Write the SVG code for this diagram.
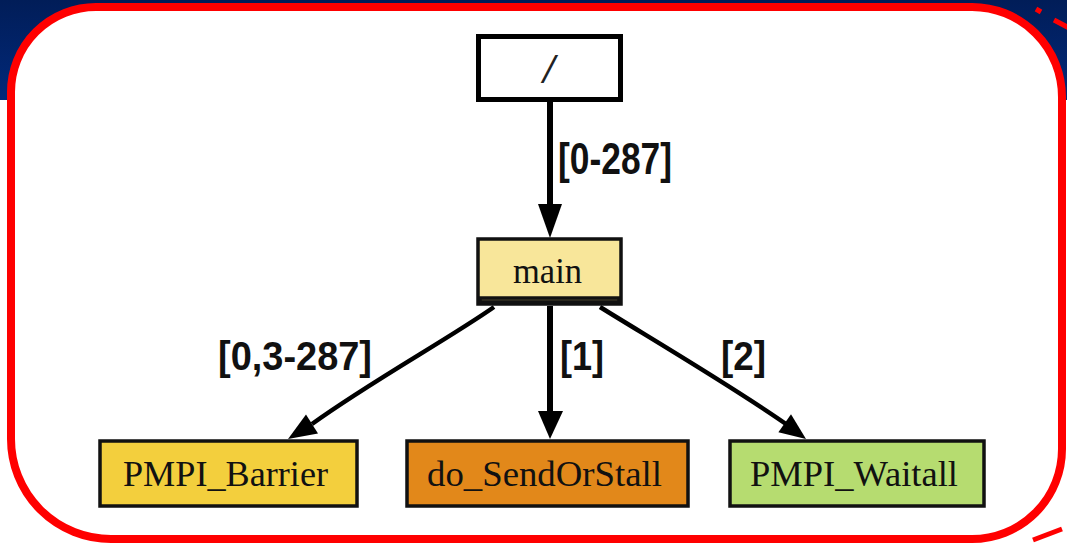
<svg xmlns="http://www.w3.org/2000/svg" width="1067" height="548" viewBox="0 0 1067 548">
  <defs>
    <linearGradient id="navy" x1="0" y1="0" x2="0" y2="1">
      <stop offset="0" stop-color="#011d58"/>
      <stop offset="1" stop-color="#02297a"/>
    </linearGradient>
    <style>
      .node rect { stroke: #111; stroke-width: 3.5; }
      .label { font-family: "Liberation Serif", "Times New Roman", serif; font-size: 36px; fill: #111; text-anchor: start; }
      .elabel { font-family: "Liberation Sans", Arial, sans-serif; font-weight: bold; fill: #111; }
      .edge { fill: none; stroke: #000; }
      .head { fill: #000; }
      .frame { fill: #fff; stroke: #ff0000; stroke-width: 8; }
      .mark { stroke: #ff0000; stroke-width: 5; }
    </style>
  </defs>

  <!-- page background -->
  <rect x="0" y="0" width="1067" height="548" fill="#fff"/>
  <rect x="0" y="0" width="1067" height="100" fill="url(#navy)"/>

  <!-- red rounded frame -->
  <path class="frame" d="M 96,7 H 972 A 90 90 0 0 1 1062,97 V 449 A 90 90 0 0 1 972,539 H 111 A 100 100 0 0 1 11,439 V 92 A 85 85 0 0 1 96,7 Z"/>
  <g id="frame-marks">
    <line class="mark" x1="1036" y1="9" x2="1041" y2="12"/>
    <line class="mark" x1="1054" y1="20" x2="1069" y2="28"/>
    <line class="mark" x1="1033" y1="540" x2="1062" y2="529"/>
  </g>

  <!-- connectors -->
  <g id="edges">
    <line class="edge" x1="550" y1="102" x2="550" y2="207" stroke-width="6"/>
    <polygon class="head" points="538,204 562,204 550,238"/>
    <text class="elabel" x="558" y="174" font-size="44" textLength="114" lengthAdjust="spacingAndGlyphs">[0-287]</text>

    <path class="edge" d="M 494,307 C 450,338 370,382 312,424" stroke-width="4.5"/>
    <polygon class="head" points="288,439 318,433.4 306,414.6"/>
    <text class="elabel" x="218" y="370" font-size="40" textLength="154" lengthAdjust="spacingAndGlyphs">[0,3-287]</text>

    <line class="edge" x1="550" y1="306" x2="550" y2="414" stroke-width="6"/>
    <polygon class="head" points="538,411 563,411 550,439"/>
    <text class="elabel" x="560" y="370" font-size="40" textLength="44" lengthAdjust="spacingAndGlyphs">[1]</text>

    <path class="edge" d="M 600,307 C 650,338 730,385 786,424" stroke-width="4.5"/>
    <polygon class="head" points="806,439 778.4,432.2 791,414.2"/>
    <text class="elabel" x="721" y="370" font-size="40" textLength="45" lengthAdjust="spacingAndGlyphs">[2]</text>
  </g>

  <!-- nodes -->
  <g id="node-root" class="node">
    <rect x="478.5" y="36.5" width="142" height="63" fill="#fff" style="stroke:#000;stroke-width:5"/>
    <text x="549" y="83" font-family="Liberation Serif, serif" font-style="italic" font-weight="bold" font-size="42" fill="#222" text-anchor="middle">/</text>
  </g>

  <g id="node-main" class="node">
    <rect x="478" y="239" width="143" height="65" fill="#f8e69a"/>
    <rect x="480" y="298" width="139" height="4" fill="#7d7049"/>
    <text class="label" x="513" y="283" font-size="38" textLength="69" lengthAdjust="spacingAndGlyphs">main</text>
  </g>

  <g id="node-barrier" class="node">
    <rect x="100" y="441" width="257" height="65" fill="#f3cf3d"/>
    <text class="label" x="123" y="486" textLength="205" lengthAdjust="spacingAndGlyphs">PMPI_Barrier</text>
  </g>

  <g id="node-send" class="node">
    <rect x="407" y="441" width="281" height="65" fill="#e2881a"/>
    <text class="label" x="427" y="486" textLength="235" lengthAdjust="spacingAndGlyphs">do_SendOrStall</text>
  </g>

  <g id="node-waitall" class="node">
    <rect x="730" y="441" width="254" height="65" fill="#b6dc70"/>
    <text class="label" x="750" y="486" textLength="208" lengthAdjust="spacingAndGlyphs">PMPI_Waitall</text>
  </g>
</svg>
